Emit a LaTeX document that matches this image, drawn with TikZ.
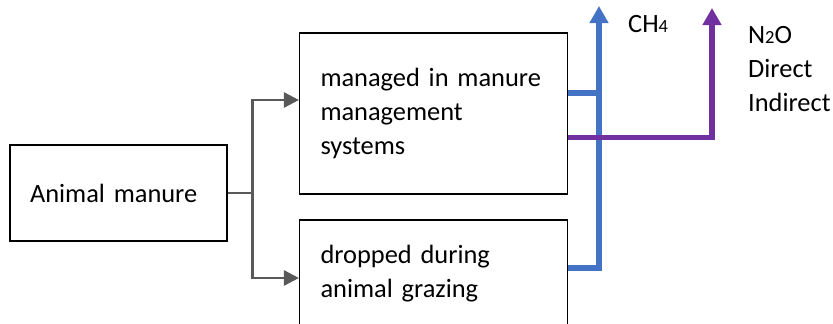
\documentclass[tikz,border=0pt]{standalone}
\usepackage{fontspec}
\setmainfont{Carlito}
\usetikzlibrary{arrows.meta}

\definecolor{flowgray}{HTML}{595959}
\definecolor{chblue}{HTML}{4472C4}
\definecolor{nopurple}{HTML}{7030A0}

\newcommand{\lbl}{\fontsize{26.4}{34}\selectfont}
\newcommand{\subdigit}[1]{{\fontsize{18.5}{18.5}\selectfont #1}}

\tikzset{
  box/.style={draw=black, line width=1.1pt, rectangle, inner xsep=0pt,
              align=left, font=\lbl},
  flow/.style={draw=flowgray, line width=2.6pt},
  flowtip/.style={-{Triangle[length=15pt,width=15pt]}},
  gas/.style={line width=5.5pt},
  gastip/.style={-{Triangle[length=17pt,width=18pt]}},
  gaslabel/.style={font=\lbl, inner sep=0pt, anchor=base west},
}

\begin{document}
\begin{tikzpicture}[x=1pt, y=-1pt]
  \useasboundingbox (0,0) rectangle (833,324);
  \clip (0,0) rectangle (833,324);

  % source and the two manure pathways
  \node[box, minimum width=217pt, minimum height=96pt, text width=177pt]
    (am) at (118.5,193) {Animal manure};
  \node[box, minimum width=268pt, minimum height=161pt, text width=226pt]
    (mm) at (433.5,113.5) {managed in manure\\management\\systems};
  \node[box, minimum width=268pt, minimum height=108pt, text width=226pt]
    (dg) at (433.5,274) {dropped during\\animal grazing};

  % split from the source into both pathways
  \draw[flow] (am.east) -- ++(25,0) coordinate (split);
  \draw[flow, flowtip] (split) |- ([yshift=13.5pt]mm.west);
  \draw[flow, flowtip] (split) |- ([yshift=-4pt]dg.west);

  % methane line
  \coordinate (chtop) at (599,6);
  \coordinate (chfrom) at ([yshift=20.5pt]mm.east);
  \draw[gas, chblue, gastip] ([yshift=6pt]dg.east) -| (chtop);
  \draw[gas, chblue] (chfrom) -- (chfrom -| chtop);

  % nitrous oxide line
  \coordinate (notop) at (712,8);
  \draw[gas, nopurple, gastip] ([yshift=-24pt]mm.east) -| (notop);

  % gas labels
  \node[gaslabel] (ch4) at (628,32) {CH\subdigit{4}};
  \node[gaslabel] (n2o) at (748,43) {N\subdigit{2}O};
  \node[gaslabel] (direct) at (748,77) {Direct};
  \node[gaslabel] (indirect) at (748,111) {Indirect};
\end{tikzpicture}
\end{document}
